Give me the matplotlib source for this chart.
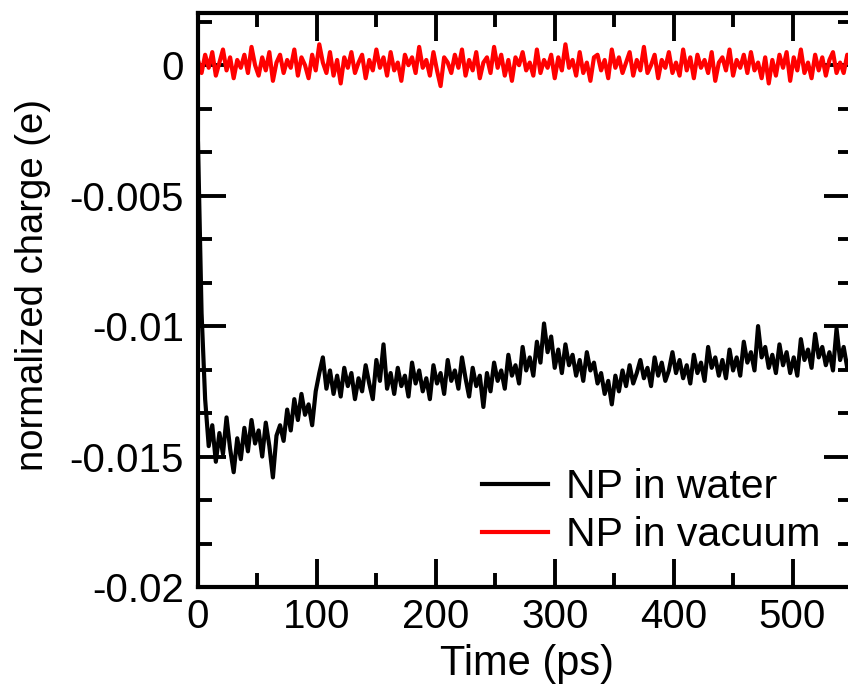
import numpy as np
import matplotlib
matplotlib.use("Agg")
import matplotlib.pyplot as plt
from matplotlib.ticker import AutoMinorLocator, MultipleLocator, FuncFormatter

plt.rcParams['font.family'] = ['Liberation Sans', 'DejaVu Sans']
plt.rcParams['axes.unicode_minus'] = False

dt = 3.0

# NP in water, normalized charge in units of 1e-4 e
water = [
    -30, -95, -128, -146, -138, -152, -141, -149, -135, -147,
    -156, -143, -151, -139, -148, -136, -145, -140, -150, -137,
    -146, -158, -142, -138, -144, -132, -140, -128, -136, -126,
    -134, -130, -138, -125, -118, -112, -124, -117, -126, -119,
    -127, -116, -123, -118, -128, -120, -125, -115, -122, -128,
    -113, -121, -107, -124, -118, -126, -116, -123, -119, -127,
    -114, -122, -117, -125, -120, -128, -115, -122, -118, -126,
    -113, -121, -117, -124, -112, -120, -127, -116, -123, -119,
    -131, -118, -125, -114, -121, -117, -124, -111, -119, -115,
    -122, -108, -117, -112, -119, -106, -114, -99, -110, -104,
    -116, -109, -118, -107, -115, -111, -119, -113, -121, -110,
    -117, -114, -122, -118, -126, -121, -130, -119, -125, -117,
    -123, -115, -122, -118, -113, -120, -116, -123, -112, -119,
    -114, -121, -117, -110, -118, -113, -120, -115, -122, -111,
    -118, -114, -121, -108, -116, -112, -119, -113, -120, -109,
    -117, -112, -119, -106, -114, -110, -117, -100, -112, -108,
    -116, -111, -118, -107, -115, -110, -118, -112, -119, -105,
    -113, -109, -116, -103, -112, -108, -115, -110, -117, -101,
    -113, -108, -116, -111,
]

# NP in vacuum, normalized charge in units of 1e-4 e
vacuum = [
    2, -3, 4, -1, 5, -4, 1, 6, -2, 3, -5, 2, -1, 4, -3, 7, 0, -4, 3, -2,
    5, -6, 1, 4, -3, 2, -1, 6, -4, 3, 0, -5, 4, -2, 8, 1, -3, 5, -4, 2,
    -7, 3, -1, 5, -3, 1, 4, -5, 2, -2, 6, -1, 3, -4, 5, -2, 1, -6, 4, 0,
    3, -3, 7, -1, 2, -4, 5, -2, -8, 3, 1, -3, 4, -1, 6, -4, 2, -2, 5, -5,
    1, 3, -3, 7, -1, 4, -4, 2, -6, 3, 0, 5, -2, 1, -4, 6, -3, 2, -1, 4,
    -5, 3, -2, 8, -1, 2, -4, 5, -3, 1, -6, 3, 4, -2, 2, -5, 6, -1, 3, -3,
    1, 5, -4, 2, -2, 7, -3, 0, 4, -5, 2, -1, 5, -3, 1, -4, 6, -2, 3, -5,
    4, -1, 2, -3, 5, -6, 1, 3, -2, 6, -4, 2, -1, 4, -3, 5, -2, 1, -5, 3,
    -7, 2, -4, 4, -1, 5, -6, 3, -2, 6, -3, 1, -5, 4, -2, 3, -4, 2, 5, -3,
    1, -3, 4, -2,
]

labels = ['NP in water', 'NP in vacuum']

t_water = np.arange(len(water)) * dt
t_vac = np.arange(len(vacuum)) * dt
q_water = np.array(water) * 1e-4
q_vac = np.array(vacuum) * 1e-4

fig = plt.figure(figsize=(8.48, 6.91), dpi=100)
# right spine sits just outside the picture, as in the original crop
ax = fig.add_axes([198 / 848, 104 / 691, 654 / 848, 574 / 691])

ax.plot(t_water, q_water, color='black', lw=3.0, label=labels[0])
ax.plot(t_vac, q_vac, color='red', lw=3.0, label=labels[1])

ax.set_xlim(0, 550)
ax.set_ylim(-0.02, 0.002)
ax.xaxis.set_major_locator(MultipleLocator(100))
ax.xaxis.set_minor_locator(AutoMinorLocator(2))
ax.yaxis.set_major_locator(MultipleLocator(0.005))
ax.yaxis.set_minor_locator(AutoMinorLocator(3))
ax.yaxis.set_major_formatter(FuncFormatter(lambda v, p: f'{v:g}'))

for s in ax.spines.values():
    s.set_linewidth(3)
ax.tick_params(which='both', direction='in', top=True, right=True, width=2.8)
ax.tick_params(which='major', length=20)
ax.tick_params(which='minor', length=10)
ax.tick_params(axis='x', labelsize=29, pad=8)
ax.tick_params(axis='y', labelsize=29, pad=10)

ax.set_xlabel('Time (ps)', fontsize=30)
ax.xaxis.set_label_coords(527 / 848, 1 - 664 / 691, transform=fig.transFigure)
ax.set_ylabel('normalized charge (e)', fontsize=27.5)
ax.yaxis.set_label_coords(33 / 848, 1 - 285 / 691, transform=fig.transFigure)
ax.xaxis.label.set_va('center')
ax.yaxis.label.set_va('center')

ax.legend(loc='upper left', bbox_to_anchor=(482 / 848, 1 - 468 / 691),
          bbox_transform=fig.transFigure, frameon=False, fontsize=29.5,
          handlelength=1.6, handletextpad=0.45, labelspacing=0.25,
          borderpad=0, borderaxespad=0)

fig.savefig('out.png', dpi=100)
